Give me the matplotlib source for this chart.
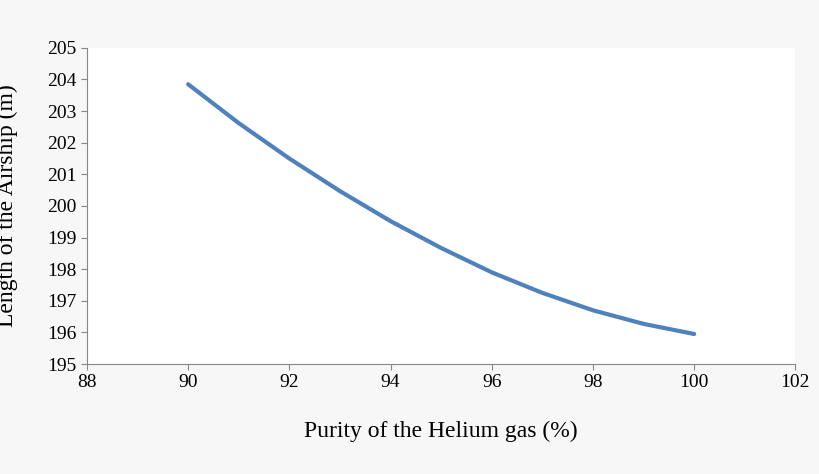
import matplotlib
matplotlib.use("Agg")
import matplotlib.pyplot as plt
import numpy as np

purity = [90, 91, 92, 93, 94, 95, 96, 97, 98, 99, 100]
length = [203.85, 202.62, 201.5, 200.47, 199.52, 198.67, 197.9, 197.25, 196.7, 196.27, 195.95]

plt.rcParams['font.family'] = ['Liberation Serif', 'DejaVu Serif']
fig = plt.figure(figsize=(8.2, 4.74), dpi=100, facecolor='#f7f7f7')
ax = fig.add_axes([0.106, 0.232, 0.864, 0.667])
ax.set_facecolor('white')
ax.plot(purity, length, color='#4f81bd', lw=3, solid_capstyle='round', solid_joinstyle='round')
ax.set_xlim(88, 102)
ax.set_ylim(195, 205)
ax.set_xticks(np.arange(88, 103, 2))
ax.set_yticks(np.arange(195, 206, 1))
ax.tick_params(labelsize=14, direction='out', length=4, color='#888888')
for s in ['top', 'right']:
    ax.spines[s].set_visible(False)
for s in ['left', 'bottom']:
    ax.spines[s].set_color('#888888')
ax.set_xlabel('Purity of the Helium gas (%)', fontsize=17)
ax.set_ylabel('Length of the Airship (m)', fontsize=17)
ax.yaxis.set_label_coords(-0.097, 0.5)
ax.xaxis.set_label_coords(0.5, -0.18)
fig.savefig('out.png', dpi=100, facecolor=fig.get_facecolor())
